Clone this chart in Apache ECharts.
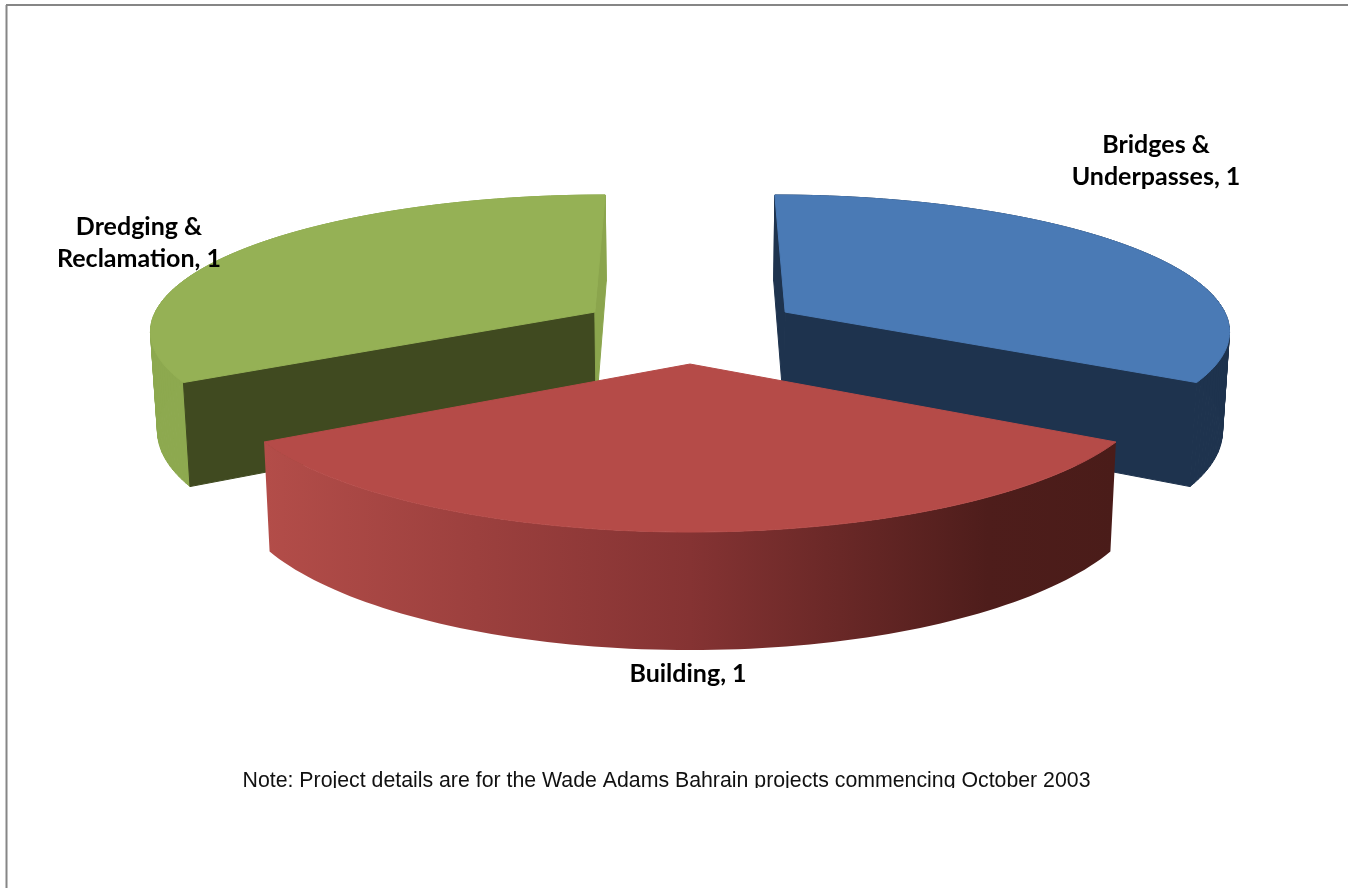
<!DOCTYPE html>
<html>
<head>
<meta charset="utf-8">
<style>html,body{margin:0;padding:0;background:#fff}#c{width:1348px;height:888px}</style>
<script src="https://cdn.jsdelivr.net/npm/echarts@6/dist/echarts.min.js"></script>
</head>
<body>
<div id="c"></div>
<script>
// listed clockwise, starting with the slice that is drawn furthest back
const categories = ['Dredging &\nReclamation', 'Bridges &\nUnderpasses', 'Building'];
const values = [1, 1, 1];
const noteText = 'Note: Project details are for the Wade Adams Bahrain projects commencing October 2003';

const topColors = ['#95B155', '#4A7AB5', '#B54B48'];
const wallColors = ['#8DA94F', '#1E334E', null];
const startFaceColors = ['#404A20', '#1E334E', null];
const endFaceColors = ['#8BA54D', '#1E334E', null];
const labelAnchors = [[139, 243], [1156, 161], [688, 674]];

// perspective camera of the 3-D pie
const CX = 690, DX = 8.1, LX = 3615, DY = 7.73, YH = -724.6, KY = 8143, WALL = 765,
      BOTTOM_SCALE = 0.987, EXPLODE = 0.25, START = -Math.PI * 2 / 3;
function project(X, Y, bottom) {
  let sx = LX * X / (DX - Y);
  let sy = YH + KY / (DY - Y);
  if (bottom) { sx *= BOTTOM_SCALE; sy += WALL / (DY - Y); }
  return [CX + sx, sy];
}
const total = values.reduce((a, b) => a + b, 0);

function renderItem(params, api) {
  const i = params.dataIndex;
  let before = 0;
  for (let j = 0; j < i; j++) before += values[j];
  const a0 = START + before / total * Math.PI * 2;
  const a1 = START + (before + api.value(0)) / total * Math.PI * 2;
  const mid = (a0 + a1) / 2;
  const ox = Math.sin(mid) * EXPLODE, oy = -Math.cos(mid) * EXPLODE;
  const pt = (a, bottom) => project(ox + Math.sin(a), oy - Math.cos(a), bottom);
  const steps = 90, arcTop = [], arcBottom = [];
  for (let s = 0; s <= steps; s++) {
    const a = a0 + (a1 - a0) * s / steps;
    arcTop.push(pt(a, false));
    arcBottom.push(pt(a, true));
  }
  const cTop = project(ox, oy, false), cBottom = project(ox, oy, true);
  const kids = [];
  const poly = (points, fill, seam) => kids.push({
    type: 'polygon', shape: { points },
    style: seam ? { fill, stroke: fill, lineWidth: 1 } : { fill, stroke: null }
  });
  if (wallColors[i]) {
    // one quad per step, so the curved wall keeps its full silhouette where it turns away
    for (let s = 0; s < steps; s++) {
      poly([arcTop[s], arcTop[s + 1], arcBottom[s + 1], arcBottom[s]], wallColors[i], true);
    }
  } else {
    poly(arcTop.concat(arcBottom.slice().reverse()), new echarts.graphic.LinearGradient(0, 0, 1, 0, [
      { offset: 0, color: '#B34D49' },
      { offset: 0.5, color: '#853333' },
      { offset: 0.85, color: '#4E1D1B' },
      { offset: 1, color: '#4A1C19' }
    ]), false);
  }
  if (startFaceColors[i]) poly([cTop, arcTop[0], arcBottom[0], cBottom], startFaceColors[i], true);
  if (endFaceColors[i]) poly([cTop, arcTop[steps], arcBottom[steps], cBottom], endFaceColors[i], true);
  poly([cTop].concat(arcTop), topColors[i], true);
  return { type: 'group', children: kids };
}

const chart = echarts.init(document.getElementById('c'), null, { renderer: 'canvas' });
chart.setOption({
  animation: false,
  backgroundColor: '#fff',
  series: [{
    type: 'custom',
    coordinateSystem: 'none',
    silent: true,
    renderItem,
    data: values.map((v, i) => ({ name: categories[i], value: [v] })),
    encode: { value: 0 },
    z: 2
  }],
  graphic: [
    { type: 'line', z: 1, shape: { x1: 6.5, y1: 5, x2: 6.5, y2: 888 }, style: { stroke: '#868686', lineWidth: 2 } },
    { type: 'line', z: 1, shape: { x1: 6, y1: 5, x2: 1348, y2: 5 }, style: { stroke: '#868686', lineWidth: 2 } },
    ...categories.map((c, i) => ({
      type: 'text', z: 10, x: labelAnchors[i][0], y: labelAnchors[i][1],
      style: {
        text: c + ', ' + values[i],
        font: 'bold 25px Lato', fill: '#000', align: 'center', verticalAlign: 'middle', lineHeight: 32
      }
    })),
    { type: 'text', z: 10, x: 666.5, y: 781,
      style: { text: noteText, font: '21.3px "Liberation Sans"', fill: '#111', align: 'center', verticalAlign: 'middle' } },
    { type: 'rect', z: 11, shape: { x: 200, y: 788, width: 950, height: 14 }, style: { fill: '#fff' } }
  ]
});
</script>
</body>
</html>
